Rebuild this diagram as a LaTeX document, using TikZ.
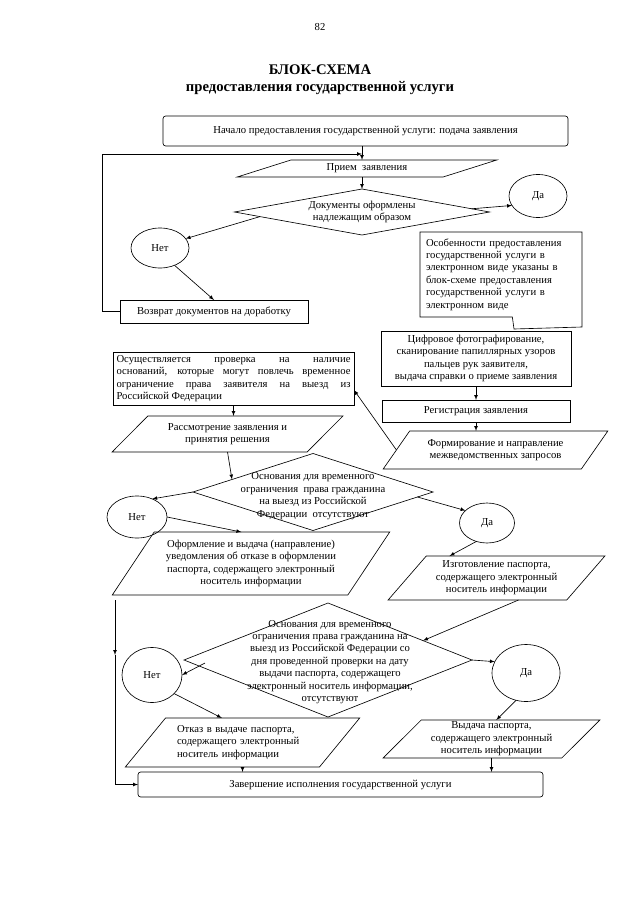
\documentclass[tikz,border=0pt]{standalone}
\usepackage{fontspec}
\setmainfont{Liberation Serif}
\usepackage{tikz}
\usetikzlibrary{shapes,calc}
\newcommand{\pxl}{0.33mm}

\begin{document}
\begin{tikzpicture}[x=0.33mm,y=-0.33mm,>=latex,line width=0.6pt,
    font=\fontsize{10}{11.7}\selectfont]
    \tikzstyle{every node}=[inner sep=0pt,outer sep=0pt]
    \tikzstyle{box}=[rectangle,draw]
    \tikzstyle{rbox}=[rectangle,draw,rounded corners=2.5pt]
    \tikzstyle{para}=[trapezium,draw,trapezium stretches=true,align=center]
    \tikzstyle{rhomb}=[diamond,draw]
    \tikzstyle{oval}=[ellipse,draw]
    \useasboundingbox (0,0) rectangle (640,905);

    \node (pg) at (320,27) {82};
    \node[font=\fontsize{13.8}{15}\selectfont\bfseries] (ttl) at (320,70) {БЛОК-СХЕМА};
    \node[font=\fontsize{13.8}{15}\selectfont\bfseries] (ttl2) at (320,88) {предоставления государственной услуги};

    \node[rbox,minimum width=405*\pxl,minimum height=30*\pxl] (start) at (365.5,131)
      {Начало предоставления государственной услуги: подача заявления};
    \node[para,trapezium left angle=18,trapezium right angle=162,
      minimum width=260*\pxl,minimum height=17*\pxl] (priem) at (367,168.5) {Прием\ \ заявления};
    \node[rhomb,minimum width=255*\pxl,minimum height=46*\pxl] (d1) at (362,212) {};
    \node[align=center] (d1t) at (362,212) {Документы оформлены\\надлежащим образом};
    \node[oval,minimum width=58*\pxl,minimum height=43*\pxl] (da1) at (538,196) {Да};
    \node[oval,minimum width=58*\pxl,minimum height=40*\pxl] (net1) at (160,248) {Нет};
    \node[box,minimum width=188*\pxl,minimum height=23*\pxl] (vozv) at (214,311.5)
      {Возврат документов на доработку};
    \node[rectangle,minimum width=162*\pxl,minimum height=85*\pxl,text width=150*\pxl,align=left]
      (osob) at (501,274.5)
      {Особенности предоставления\\государственной услуги в\\электронном виде указаны в\\
       блок-схеме предоставления\\государственной услуги в\\электронном виде};
    \coordinate (tip) at (514,329);
    \draw (osob.north west) -- (osob.north east) -- ($(osob.south east)+(0,10)$) -- (tip)
      -- ($(osob.south west)!0.57!(osob.south east)$) -- (osob.south west) -- cycle;
    \node[box,minimum width=190*\pxl,minimum height=55*\pxl,align=center] (cifr) at (476,358.5)
      {Цифровое фотографирование,\\сканирование папиллярных узоров\\пальцев рук заявителя,\\
       выдача справки о приеме заявления};
    \node[box,minimum width=188*\pxl,minimum height=22*\pxl] (reg) at (476,411) {Регистрация заявления};
    \node[para,trapezium left angle=46,trapezium right angle=134,
      minimum width=225*\pxl,minimum height=38*\pxl] (form) at (495.5,450)
      {Формирование и направление\\межведомственных запросов};
    \node[box,minimum width=241*\pxl,minimum height=53*\pxl,text width=234*\pxl,align=justify] (osush)
      at (233.5,378.5) {Осуществляется проверка на наличие\linebreak
       оснований, которые могут повлечь временное\linebreak
       ограничение права заявителя на выезд из\linebreak Российской Федерации};
    \node[para,trapezium left angle=39,trapezium right angle=141,
      minimum width=231*\pxl,minimum height=36*\pxl] (rassm) at (227.5,434)
      {Рассмотрение заявления и\\принятия решения};

    \node[rhomb,minimum width=240*\pxl,minimum height=77*\pxl] (d2) at (313,492) {};
    \node[align=center] (d2t) at (313,496) {Основания для временного\\ограничения\ \ права гражданина\\
      на выезд из Российской\\Федерации\ \ отсутствуют};
    \node[oval,minimum width=60*\pxl,minimum height=42*\pxl] (net2) at (137,517) {Нет};
    \node[oval,minimum width=55*\pxl,minimum height=40*\pxl] (da2) at (487,523) {Да};
    \node[para,trapezium left angle=52,trapezium right angle=128,
      minimum width=278*\pxl,minimum height=63*\pxl] (ofo) at (251,563.5)
      {Оформление и выдача (направление)\\уведомления об отказе в оформлении\\
       паспорта, содержащего электронный\\носитель информации};
    \node[para,trapezium left angle=46,trapezium right angle=134,
      minimum width=217*\pxl,minimum height=44*\pxl] (izg) at (496.5,578)
      {Изготовление паспорта,\\содержащего электронный\\носитель информации};

    \node[rhomb,minimum width=288*\pxl,minimum height=114*\pxl] (d3) at (328,660) {};
    \node[align=center] (d3t) at (330,662) {Основания для временного\\ограничения права гражданина на\\
      выезд из Российской Федерации со\\дня проведенной проверки на дату\\выдачи паспорта, содержащего\\
      электронный носитель информации,\\отсутствуют};
    \node[oval,minimum width=60*\pxl,minimum height=55*\pxl] (net3) at (152,675) {Нет};
    \node[oval,minimum width=68*\pxl,minimum height=57*\pxl] (da3) at (526,673) {Да};
    \node[para,trapezium left angle=45,trapezium right angle=135,text width=131*\pxl,align=left,
      minimum width=235*\pxl,minimum height=49*\pxl] (otkaz) at (242.5,742.5)
      {Отказ в выдаче паспорта,\\содержащего электронный\\носитель информации};
    \node[para,trapezium left angle=46,trapezium right angle=134,
      minimum width=217*\pxl,minimum height=38*\pxl] (vyd) at (491.5,739)
      {Выдача паспорта,\\содержащего электронный\\носитель информации};
    \node[rbox,minimum width=405*\pxl,minimum height=25*\pxl] (fin) at (340.5,784.5)
      {Завершение исполнения государственной услуги};

    \coordinate (jn) at (362,154);
    \coordinate (lf) at (115,600);
    \coordinate (lm) at (115,655);

    \draw[->] (start.south -| jn) -- (priem.north -| jn);
    \draw[->] (vozv.west) -- ++(-18,0) |- (jn);
    \draw[->] (priem.south -| jn) -- (d1.north);
    \draw[->] ($(d1.east)!0.14!(d1.north)$) -- (da1.200);
    \draw[->] ($(d1.west)!0.2!(d1.south)$) -- (net1.20);
    \draw[->] (net1.-50) -- (vozv.north);
    \draw[->] (cifr.south) -- (reg.north);
    \draw[->] (reg.south) -- (reg.south |- form.north);
    \draw[->] (form.west) -- ($(osush.south east)+(0,-15)$);
    \draw[->] (osush.south) -- (osush.south |- rassm.north);
    \draw[->] (rassm.south) -- ($(d2.north)!0.675!(d2.west)$);
    \draw[->] (d2.west) -- (net2.50);
    \draw[->] (net2.east) -- ($(ofo.top left corner)!0.37!(ofo.top right corner)$);
    \draw[->] ($(d2.east)!0.13!(d2.south)$) -- (da2.150);
    \draw[->] (da2.240) -- ($(izg.top left corner)!0.13!(izg.top right corner)$);
    \draw[->] (lf) -- (lm);
    \draw[->] (lm) |- (fin.west);
    \draw[->] ($(izg.bottom left corner)!0.73!(izg.bottom right corner)$) -- ($(d3.north)!0.66!(d3.east)$);
    \draw[->] ($(d3.west)+(21,3)$) -- (net3.east);
    \draw[->] (net3.-40) -- ($(otkaz.top left corner)!0.29!(otkaz.top right corner)$);
    \draw[->] (d3.east) -- (da3.160);
    \draw[->] (da3.250) -- ($(vyd.top left corner)!0.42!(vyd.top right corner)$);
    \draw[->] (otkaz.south) -- (otkaz.south |- fin.north);
    \draw[->] (vyd.south) -- (vyd.south |- fin.north);
\end{tikzpicture}
\end{document}
